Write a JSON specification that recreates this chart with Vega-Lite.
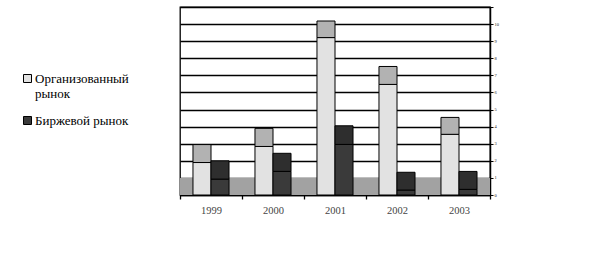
{
  "$schema": "https://vega.github.io/schema/vega-lite/v6.json",
  "autosize": "none",
  "width": 310,
  "height": 188,
  "padding": {"left": 180, "top": 7, "right": 124, "bottom": 69},
  "background": "white",
  "config": {
    "view": {"stroke": "black", "strokeWidth": 1.3},
    "font": "Times New Roman"
  },
  "data": {
    "values": [
      {"year": "1999", "series": "Организованный рынок", "front": 1.9, "top": 2.95},
      {"year": "1999", "series": "Биржевой рынок", "front": 0.93, "top": 2.0},
      {"year": "2000", "series": "Организованный рынок", "front": 2.84, "top": 3.9},
      {"year": "2000", "series": "Биржевой рынок", "front": 1.38, "top": 2.44},
      {"year": "2001", "series": "Организованный рынок", "front": 9.21, "top": 10.18},
      {"year": "2001", "series": "Биржевой рынок", "front": 2.96, "top": 4.05},
      {"year": "2002", "series": "Организованный рынок", "front": 6.47, "top": 7.52},
      {"year": "2002", "series": "Биржевой рынок", "front": 0.29, "top": 1.33},
      {"year": "2003", "series": "Организованный рынок", "front": 3.55, "top": 4.54},
      {"year": "2003", "series": "Биржевой рынок", "front": 0.33, "top": 1.38}
    ]
  },
  "encoding": {
    "x": {
      "field": "year", "type": "ordinal",
      "scale": {"paddingInner": 0, "paddingOuter": 0},
      "axis": {
        "title": null, "labelAngle": 0, "tickBand": "extent",
        "domainColor": "black", "domainWidth": 1.3,
        "tickColor": "black", "tickSize": 4, "tickWidth": 1.3,
        "labelFont": "Times New Roman", "labelFontSize": 10.5, "labelColor": "#444",
        "labelPadding": 6
      }
    },
    "xOffset": {
      "field": "series", "type": "nominal",
      "sort": ["Организованный рынок", "Биржевой рынок"],
      "scale": {"paddingInner": 0, "paddingOuter": 0.72}
    }
  },
  "layer": [
    {
      "data": {"values": [{"lo": 0, "hi": 1}]},
      "mark": {"type": "rect", "fill": "#a2a2a2"},
      "encoding": {
        "x": {"value": 0},
        "x2": {"value": "width"},
        "xOffset": null,
        "y": {
          "field": "lo", "type": "quantitative",
          "scale": {"domain": [0, 11], "nice": false, "zero": true},
          "axis": {
            "title": null, "orient": "right",
            "values": [0, 1, 2, 3, 4, 5, 6, 7, 8, 9, 10, 11],
            "labelExpr": "datum.value == 11 ? '' : datum.label",
            "labelOverlap": false,
            "grid": true, "gridColor": "black", "gridWidth": 1.3,
            "domainColor": "black", "domainWidth": 1.5,
            "tickColor": "black", "tickSize": 3, "tickWidth": 1,
            "labelFontSize": 4.5, "labelColor": "#222", "labelPadding": 1
          }
        },
        "y2": {"field": "hi"}
      }
    },
    {
      "mark": {"type": "bar", "stroke": "black", "strokeWidth": 1},
      "encoding": {
        "y": {
          "field": "front", "type": "quantitative",
          "axis": {
            "title": null, "orient": "right",
            "values": [0, 1, 2, 3, 4, 5, 6, 7, 8, 9, 10, 11],
            "labelExpr": "datum.value == 11 ? '' : datum.label",
            "labelOverlap": false,
            "grid": true, "gridColor": "black", "gridWidth": 1.3,
            "domainColor": "black", "domainWidth": 1.5,
            "tickColor": "black", "tickSize": 3, "tickWidth": 1,
            "labelFontSize": 4.5, "labelColor": "#222", "labelPadding": 1
          }
        },
        "color": {
          "field": "series", "type": "nominal",
          "sort": ["Организованный рынок", "Биржевой рынок"],
          "scale": {"domain": ["Организованный рынок", "Биржевой рынок"], "range": ["#e2e2e2", "#3a3a3a"]},
          "legend": {
            "title": null, "orient": "none", "legendX": -159, "legendY": 65,
            "symbolType": "square", "symbolSize": 64,
            "symbolStrokeColor": "black", "symbolStrokeWidth": 1,
            "labelFont": "Times New Roman", "labelFontSize": 13, "labelColor": "black",
            "labelLimit": 0, "labelOffset": 1, "rowPadding": 13,
            "labelExpr": "datum.label == 'Организованный рынок' ? ['Организованный', 'рынок'] : datum.label"
          }
        }
      }
    },
    {
      "mark": {"type": "bar", "stroke": "black", "strokeWidth": 1},
      "encoding": {
        "y": {
          "field": "front", "type": "quantitative",
          "axis": {
            "title": null, "orient": "right",
            "values": [0, 1, 2, 3, 4, 5, 6, 7, 8, 9, 10, 11],
            "labelExpr": "datum.value == 11 ? '' : datum.label",
            "labelOverlap": false,
            "grid": true, "gridColor": "black", "gridWidth": 1.3,
            "domainColor": "black", "domainWidth": 1.5,
            "tickColor": "black", "tickSize": 3, "tickWidth": 1,
            "labelFontSize": 4.5, "labelColor": "#222", "labelPadding": 1
          }
        },
        "y2": {"field": "top"},
        "fill": {
          "condition": {"test": "datum.series == 'Биржевой рынок'", "value": "#2e2e2e"},
          "value": "#b2b2b2"
        }
      }
    }
  ]
}
